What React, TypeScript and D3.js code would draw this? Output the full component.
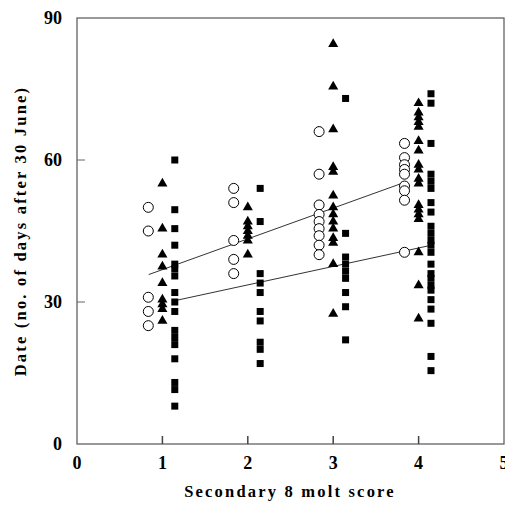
import * as d3 from "d3";

// molt score groups
const scores = [1, 2, 3, 4];

// open circles (left of each score)
const circles = [
  [50, 45, 31, 28, 25],
  [54, 51, 43, 39, 36],
  [66, 57, 50.5, 48.5, 47, 45.5, 44, 42, 40],
  [63.5, 60.5, 59, 58, 57, 54.5, 53.5, 51.5, 40.5],
];

// filled triangles (on the score)
const triangles = [
  [55, 45.5, 40, 37.5, 34, 30.5, 29.5, 28.5, 26],
  [50, 47, 46, 45, 44, 43, 40],
  [84.5, 75.5, 66.5, 58.5, 57.5, 52.5, 50, 48.5, 47, 45.5, 43.5, 42.5, 38, 27.5],
  [72, 70, 69, 68, 67, 64, 62, 59, 58, 56, 55, 50.5, 49.5, 48.5, 47.5, 40.5, 33.5, 26.5],
];

// filled squares (right of each score)
const squares = [
  [60, 49.5, 45.5, 42, 38, 37, 35.5, 32, 30, 28, 24, 22.5, 21, 18, 13, 11.5, 8],
  [54, 47, 36, 34, 32, 28, 26, 21.5, 20, 17],
  [73, 44.5, 39.5, 38, 36.5, 35, 32, 29, 22],
  [74, 72, 63.5, 57, 55.5, 54, 51, 49, 46, 44.5, 43, 42, 40.5, 38, 36, 35, 33.5, 32.5, 30.5, 28.5, 25.5, 18.5, 15.5],
];

// regression lines [score, date]
const upperLine: [number, number][] = [[0.84, 35.8], [3.84, 55.3]];
const lowerLine: [number, number][] = [[1.15, 30.3], [4.15, 42]];

const xTicks = [0, 1, 2, 3, 4, 5];
const yTicks = [0, 30, 60, 90];

export default function App() {
  const left = 77, right = 504, top = 18, bottom = 444;
  const x = d3.scaleLinear().domain([0, 5]).range([left, right]);
  const y = d3.scaleLinear().domain([0, 90]).range([bottom, top]);
  const tri = d3.symbol().type(d3.symbolTriangle).size(44)();
  const line = d3.line<[number, number]>().x((d) => x(d[0])).y((d) => y(d[1]));
  const font = "'Liberation Serif', 'Times New Roman', serif";
  const cOff = -0.165, sOff = 0.145;

  return (
    <svg width={505} height={509} style={{ position: "absolute", left: 0, top: 0, background: "#fff" }}>
      <rect x={left} y={top} width={right - left} height={bottom - top} fill="none" stroke="#555" strokeWidth={1.2} />
      {xTicks.slice(1, -1).map((t) => (
        <line key={"xt" + t} x1={x(t)} x2={x(t)} y1={bottom} y2={bottom - 8} stroke="#444" strokeWidth={1.5} />
      ))}
      {yTicks.slice(1, -1).map((t) => (
        <line key={"yt" + t} x1={left} x2={left + 8} y1={y(t)} y2={y(t)} stroke="#666" strokeWidth={1} />
      ))}
      {xTicks.map((t) => (
        <text key={"xl" + t} x={x(t)} y={469} textAnchor="middle" fontFamily={font} fontWeight="bold" fontSize={18}>
          {t}
        </text>
      ))}
      {yTicks.map((t) => (
        <text key={"yl" + t} x={62} y={y(t) + 6} textAnchor="end" fontFamily={font} fontWeight="bold" fontSize={18}>
          {t}
        </text>
      ))}
      <path d={line(upperLine) || ""} fill="none" stroke="#333" strokeWidth={1} />
      <path d={line(lowerLine) || ""} fill="none" stroke="#333" strokeWidth={1} />
      {scores.map((s, i) => (
        <g key={"g" + s}>
          {circles[i].map((v, j) => (
            <circle key={"c" + j} cx={x(s + cOff)} cy={y(v)} r={5} fill="#fff" stroke="#000" strokeWidth={1} />
          ))}
          {triangles[i].map((v, j) => (
            <path key={"t" + j} d={tri || ""} transform={`translate(${x(s)},${y(v)})`} fill="#000" />
          ))}
          {squares[i].map((v, j) => (
            <rect key={"s" + j} x={x(s + sOff) - 3.5} y={y(v) - 3.5} width={7} height={7} fill="#000" />
          ))}
        </g>
      ))}
      <text x={290} y={497} textAnchor="middle" fontFamily={font} fontWeight="bold" fontSize={16.5} letterSpacing={2.2}>
        Secondary 8 molt score
      </text>
      <text
        transform={`translate(26,${(top + bottom) / 2}) rotate(-90)`}
        textAnchor="middle"
        fontFamily={font}
        fontWeight="bold"
        fontSize={16.5}
        letterSpacing={2.2}
      >
        Date (no. of days after 30 June)
      </text>
    </svg>
  );
}
